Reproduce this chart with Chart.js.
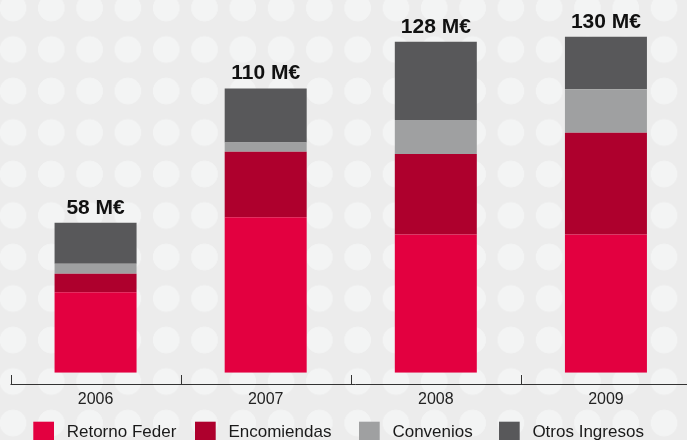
<!DOCTYPE html>
<html>
<head>
<meta charset="utf-8">
<script src="https://cdn.jsdelivr.net/npm/chart.js@4"></script>
<style>
  html, body {
    margin: 0;
    padding: 0;
    overflow: hidden;
    width: 687px;
    height: 440px;
    background-color: #ececec;
    background-image: radial-gradient(circle, #f3f4f4 13px, rgba(243,244,244,0) 13.6px);
    background-size: 38.3px 41.5px;
    background-position: -6.15px -12.75px;
  }
  #wrap { width: 700px; height: 440px; }
</style>
</head>
<body>
<div id="wrap"><canvas id="chart_1"></canvas></div>
<script>
const years = ["2006", "2007", "2008", "2009"];
const retorno_feder = [31.1, 60.1, 53.5, 53.5];
const encomiendas = [7.2, 25.4, 31.1, 39.3];
const convenios = [3.9, 3.6, 13.2, 16.9];
const otros_ingresos = [15.8, 20.9, 30.2, 20.3];
const series_names = ["Retorno Feder", "Encomiendas", "Convenios", "Otros Ingresos"];
const colors = ["#e30040", "#ae002d", "#9fa0a1", "#58585a"];

const FONT = "'Liberation Sans', Arial, sans-serif";

// axis line with tick marks pointing up, between categories
const axis_plugin = {
  id: 'axis_line',
  afterDraw(chart) {
    const ctx = chart.ctx;
    const x = chart.scales.x;
    const y0 = chart.chartArea.bottom + 11.3;
    const half = (x.getPixelForValue(1) - x.getPixelForValue(0)) / 2;
    ctx.save();
    ctx.strokeStyle = "#333";
    ctx.lineWidth = 1;
    ctx.beginPath();
    ctx.moveTo(x.getPixelForValue(0) - half, y0 + 0.5);
    ctx.lineTo(chart.width, y0 + 0.5);
    for (let i = 0; i <= years.length; i++) {
      const px = Math.round(x.getPixelForValue(i) - half) + 0.5;
      ctx.moveTo(px, y0 + 0.5);
      ctx.lineTo(px, y0 - 9);
    }
    ctx.stroke();
    ctx.restore();
  }
};

// totals above each stack
const totals_plugin = {
  id: 'totals',
  afterDatasetsDraw(chart) {
    const ctx = chart.ctx;
    const top_meta = chart.getDatasetMeta(chart.data.datasets.length - 1);
    ctx.save();
    ctx.font = "bold 21px " + FONT;
    ctx.fillStyle = "#111";
    ctx.textAlign = "center";
    ctx.textBaseline = "alphabetic";
    top_meta.data.forEach((bar, i) => {
      let total = 0;
      chart.data.datasets.forEach(ds => total += ds.data[i]);
      ctx.fillText(Math.round(total) + " M€", bar.x, bar.y - 9);
    });
    ctx.restore();
  }
};

// legend row at the bottom
const legend_plugin = {
  id: 'legend_row',
  afterDraw(chart) {
    const ctx = chart.ctx;
    const legend_x = [33.3, 195, 359, 499];
    ctx.save();
    ctx.font = "17px " + FONT;
    ctx.textBaseline = "alphabetic";
    ctx.textAlign = "left";
    chart.data.datasets.forEach((ds, i) => {
      ctx.fillStyle = ds.backgroundColor;
      ctx.fillRect(legend_x[i], 421.7, 20.7, 22);
      ctx.fillStyle = "#1a1a1a";
      ctx.fillText(ds.label, legend_x[i] + 33.4, 437.3);
    });
    ctx.restore();
  }
};

const series = [retorno_feder, encomiendas, convenios, otros_ingresos];
const datasets = series.map((d, i) => ({
  label: series_names[i],
  data: d,
  backgroundColor: colors[i],
  borderColor: "rgba(255,255,255,0.25)",
  borderWidth: 0,
  categoryPercentage: 1,
  barPercentage: 0.482
}));

const ctx = document.getElementById("chart_1").getContext('2d');
const chart = new Chart(ctx, {
  type: 'bar',
  data: { labels: years, datasets: datasets },
  options: {
    responsive: true,
    maintainAspectRatio: false,
    animation: false,
    layout: { padding: { left: 10.5, right: 9, top: 0, bottom: 0 } },
    plugins: {
      legend: { display: false },
      tooltip: { enabled: false }
    },
    scales: {
      x: {
        stacked: true,
        grid: { display: false, drawTicks: false },
        border: { display: false },
        ticks: {
          color: "#222",
          font: { family: FONT, size: 16 },
          padding: 17,
          maxRotation: 0
        },
        afterFit(scale) { scale.height = 67.3; }
      },
      y: {
        stacked: true,
        display: false,
        min: 0,
        max: 144.2
      }
    }
  },
  plugins: [axis_plugin, totals_plugin, legend_plugin]
});
</script>
</body>
</html>
